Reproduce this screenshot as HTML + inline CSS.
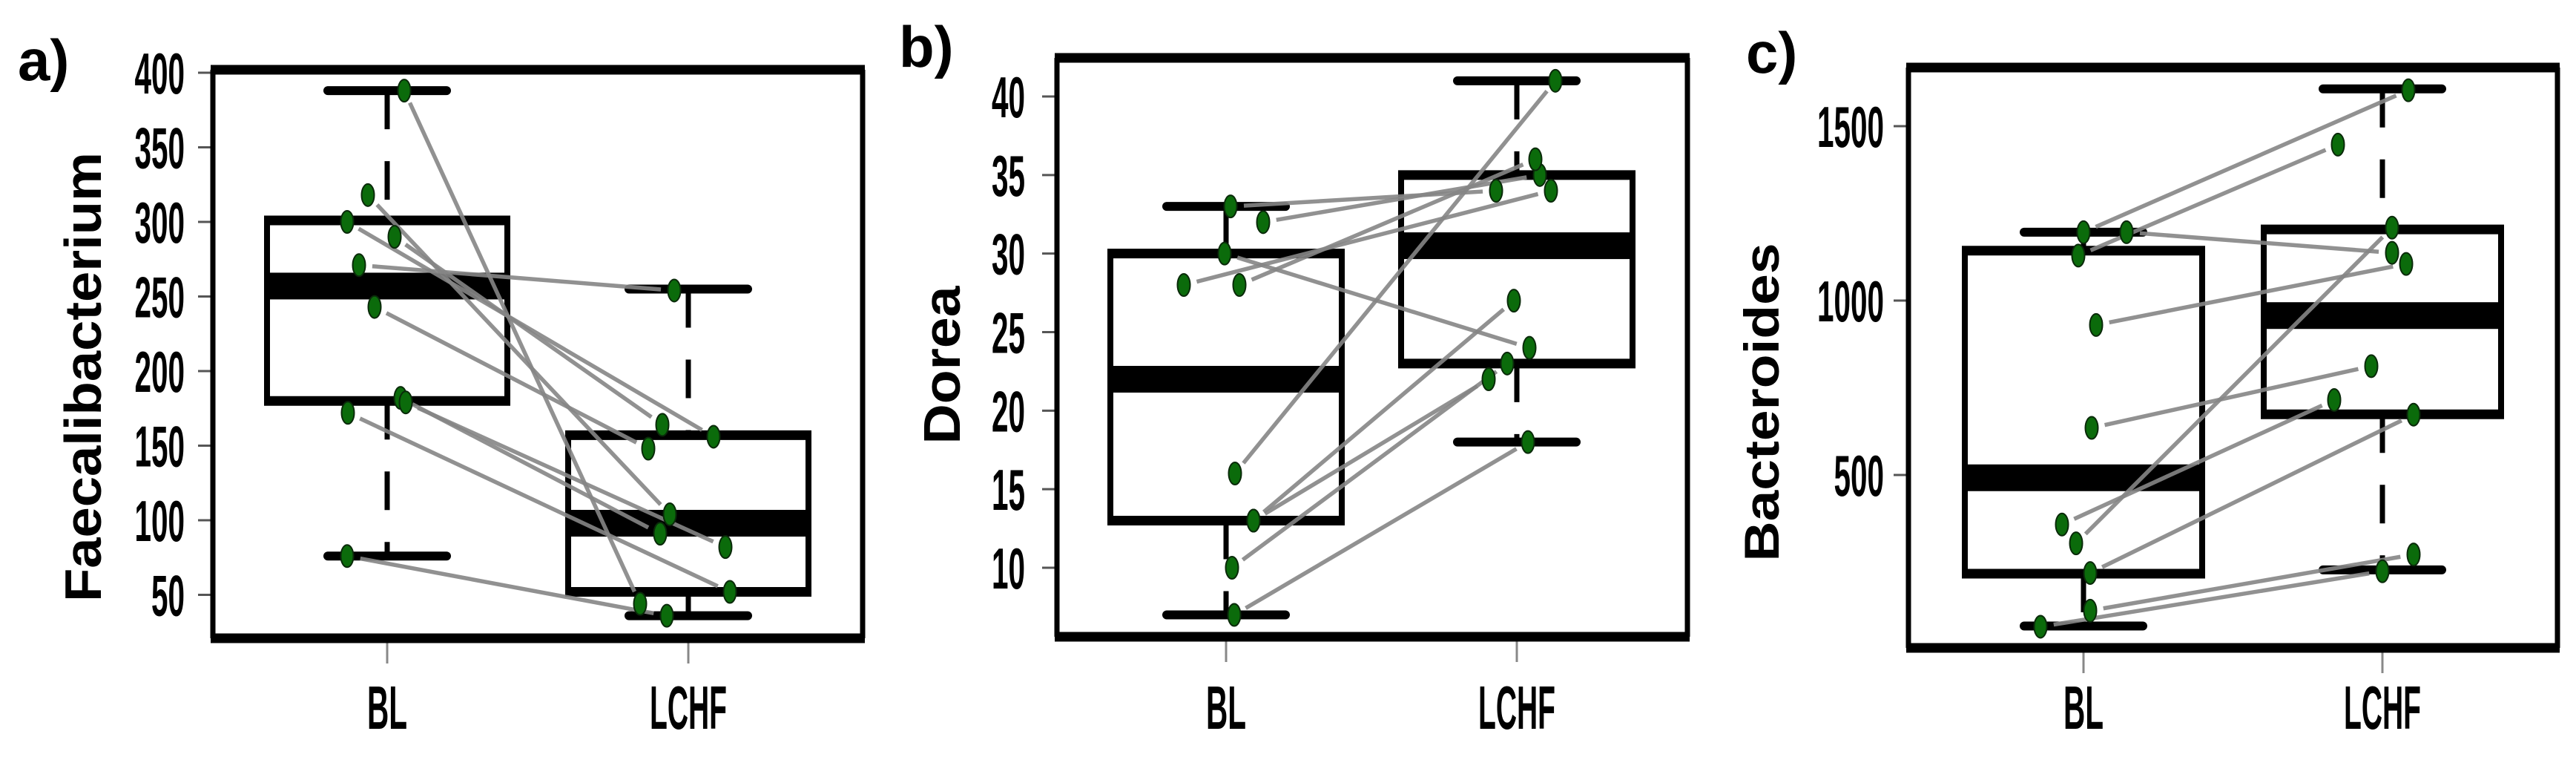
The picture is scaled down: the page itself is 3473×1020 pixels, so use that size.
<!DOCTYPE html>
<html><head><meta charset="utf-8"><style>
html,body{margin:0;padding:0;background:#fff;}
svg{display:block;}
text{font-family:"Liberation Sans",sans-serif;font-weight:bold;fill:#000;}
</style></head><body>
<svg id="fig" width="3473" height="1020" viewBox="0 0 3473 1020" xmlns="http://www.w3.org/2000/svg"></svg>
<script>
// ---- data ----
const categories = ["BL", "LCHF"];
// panel a: Faecalibacterium
const aTicks = [50, 100, 150, 200, 250, 300, 350, 400];
const aBLStats = [76, 180, 257, 301, 388];      // min,q1,median,q3,max
const aLCHFStats = [36, 52, 98, 157, 255];
const aBL = [388, 318, 300, 290, 271, 243, 182, 179, 172, 76];
const aLCHF = [44, 104, 156, 164, 254, 148, 91, 82, 52, 36];
// panel b: Dorea
const bTicks = [10, 15, 20, 25, 30, 35, 40];
const bBLStats = [7, 13, 22, 30, 33];
const bLCHFStats = [18, 23, 30.5, 35, 41];
const bBL = [33, 32, 30, 28, 28, 16, 13, 13, 10, 7];
const bLCHF = [34, 35, 24, 34, 36, 41, 27, 22, 23, 18];
// panel c: Bacteroides
const cTicks = [500, 1000, 1500];
const cBLStats = [67, 217, 492, 1143, 1196];
const cLCHFStats = [228, 674, 957, 1204, 1607];
const cBL = [1196, 1196, 1129, 930, 635, 358, 304, 219, 111, 65];
const cLCHF = [1603, 1137, 1447, 1105, 812, 715, 1209, 673, 272, 224];

// ---- layout (not data) ----
const aJitBL = [23,-26,-54,10,-38,-17,18,25,-53,-54];
const aJitL = [-65,-25,34,-35,-19,-54,-38,50,56,-29];
const bJitBL = [6,50,-2,-57,18,12,37,37,8,11];
const bJitL = [-28,31,17,46,25,52,-4,-38,-13,15];
const cJitBL = [0,58,-7,17,11,-29,-10,9,9,-58];
const cJitL = [35,13,-60,32,-15,-65,13,42,42,0];

const NS = "http://www.w3.org/2000/svg";
const svg = document.getElementById("fig");
function mk(tag, attrs, parent) {
  const e = document.createElementNS(NS, tag);
  for (const k in attrs) e.setAttribute(k, attrs[k]);
  (parent || svg).appendChild(e);
  return e;
}

function panel(p) {
  const g = mk("g", {});
  
  
  const y = v => p.yA + (v - p.vA) * (p.yB - p.yA) / (p.vB - p.vA);
  const xs = [p.xBL, p.xL];

  const lt = mk("text", {x: p.letterX, y: p.letterY, "font-size": 78}, g);
  lt.textContent = p.letter;
  
  

  const yt = mk("text", {x: 0, y: 0, "font-size": p.titleSize, "text-anchor": "middle",
    textLength: p.titleLen, lengthAdjust: "spacingAndGlyphs",
    transform: `translate(${p.titleX},${p.titleY}) rotate(-90)`}, g);
  yt.textContent = p.title;
  
  

  p.ticks.forEach(t => {
    const ty = y(t);
    const tm = mk("line", {x1: p.fx0 - 20, x2: p.fx0, y1: ty, y2: ty, stroke: "#555", "stroke-width": 3}, g);
    
    
    const s = String(t);
    const tl = mk("text", {x: p.labelRight, y: ty + 28, "font-size": 78, "text-anchor": "end",
      textLength: s.length * 22.5, lengthAdjust: "spacingAndGlyphs"}, g);
    tl.textContent = s;
    
    
  });

  categories.forEach((c, i) => {
    const xm = mk("line", {x1: xs[i], x2: xs[i], y1: p.fy1 + 6, y2: p.fy1 + 34, stroke: "#888", "stroke-width": 3}, g);
    
    
    const xl = mk("text", {x: xs[i], y: 982, "font-size": 83, "text-anchor": "middle",
      textLength: c.length === 2 ? 54 : 104, lengthAdjust: "spacingAndGlyphs"}, g);
    xl.textContent = c;
    
    
  });

  [p.blStats, p.lStats].forEach((st, i) => {
    const cx = xs[i], hw = p.boxHalf, ch = 80;
    const bg = mk("g", {}, g);
    
    
    mk("line", {x1: cx, x2: cx, y1: y(st[4]), y2: y(st[3]), stroke: "#000", "stroke-width": 7, "stroke-dasharray": "52,43"}, bg);
    mk("line", {x1: cx, x2: cx, y1: y(st[1]), y2: y(st[0]), stroke: "#000", "stroke-width": 7, "stroke-dasharray": "52,43"}, bg);
    mk("line", {x1: cx - ch, x2: cx + ch, y1: y(st[4]), y2: y(st[4]), stroke: "#000", "stroke-width": 12, "stroke-linecap": "round"}, bg);
    mk("line", {x1: cx - ch, x2: cx + ch, y1: y(st[0]), y2: y(st[0]), stroke: "#000", "stroke-width": 12, "stroke-linecap": "round"}, bg);
    mk("line", {x1: cx - hw, x2: cx - hw, y1: y(st[3]), y2: y(st[1]), stroke: "#000", "stroke-width": 8}, bg);
    mk("line", {x1: cx + hw, x2: cx + hw, y1: y(st[3]), y2: y(st[1]), stroke: "#000", "stroke-width": 8}, bg);
    mk("line", {x1: cx - hw - 4, x2: cx + hw + 4, y1: y(st[3]), y2: y(st[3]), stroke: "#000", "stroke-width": 13}, bg);
    mk("line", {x1: cx - hw - 4, x2: cx + hw + 4, y1: y(st[1]), y2: y(st[1]), stroke: "#000", "stroke-width": 13}, bg);
    mk("rect", {x: cx - hw, y: y(st[2]) - 18, width: 2 * hw, height: 36, fill: "#000"}, bg);
  });

  p.bl.forEach((v, i) => {
    const x1 = p.xBL + p.jBL[i], y1 = y(v), x2 = p.xL + p.jL[i], y2 = y(p.l[i]);
    const dx = x2 - x1, dy = y2 - y1, len = Math.hypot(dx, dy), t = 18 / len;
    const ln = mk("line", {x1: x1 + dx * t, y1: y1 + dy * t, x2: x2 - dx * t, y2: y2 - dy * t,
      stroke: "#858585", "stroke-width": 5.5, "stroke-opacity": 0.9}, g);
    
    
  });
  [[p.bl, p.jBL, p.xBL], [p.l, p.jL, p.xL]].forEach(([vals, jit, cx], k) => {
    vals.forEach((v, i) => {
      const d = mk("ellipse", {cx: cx + jit[i], cy: y(v), rx: 8.5, ry: 15, fill: "#0b6b0b", stroke: "#0a2a0a", "stroke-width": 2}, g);
      
      
    });
  });

  const fr = mk("g", {}, g);
  
  
  mk("line", {x1: p.fx0 - 3, x2: p.fx1 + 3, y1: p.fy0, y2: p.fy0, stroke: "#000", "stroke-width": 13}, fr);
  mk("line", {x1: p.fx0 - 3, x2: p.fx1 + 3, y1: p.fy1, y2: p.fy1, stroke: "#000", "stroke-width": 13}, fr);
  mk("line", {x1: p.fx0, x2: p.fx0, y1: p.fy0, y2: p.fy1, stroke: "#000", "stroke-width": 7}, fr);
  mk("line", {x1: p.fx1, x2: p.fx1, y1: p.fy0, y2: p.fy1, stroke: "#000", "stroke-width": 7}, fr);
}

panel({name: "panel-a-faecalibacterium", letter: "a)", letterX: 24, letterY: 108,
  title: "Faecalibacterium", titleSize: 70, titleLen: 606, titleX: 136, titleY: 508,
  fx0: 287, fx1: 1163, fy0: 94, fy1: 860, yA: 98, vA: 400, yB: 801.5, vB: 50,
  labelRight: 249, xBL: 522, xL: 928, boxHalf: 162,
  ticks: aTicks, blStats: aBLStats, lStats: aLCHFStats, bl: aBL, l: aLCHF, jBL: aJitBL, jL: aJitL});
panel({name: "panel-b-dorea", letter: "b)", letterX: 1212, letterY: 90,
  title: "Dorea", titleSize: 70, titleLen: 213, titleX: 1294, titleY: 492,
  fx0: 1425, fx1: 2275, fy0: 78, fy1: 858, yA: 130, vA: 40, yB: 765, vB: 10,
  labelRight: 1382, xBL: 1653, xL: 2045, boxHalf: 156,
  ticks: bTicks, blStats: bBLStats, lStats: bLCHFStats, bl: bBL, l: bLCHF, jBL: bJitBL, jL: bJitL});
panel({name: "panel-c-bacteroides", letter: "c)", letterX: 2354, letterY: 98,
  title: "Bacteroides", titleSize: 66, titleLen: 429, titleX: 2398, titleY: 542,
  fx0: 2573, fx1: 3448, fy0: 91, fy1: 873, yA: 170, vA: 1500, yB: 640, vB: 500,
  labelRight: 2540, xBL: 2809, xL: 3212, boxHalf: 160,
  ticks: cTicks, blStats: cBLStats, lStats: cLCHFStats, bl: cBL, l: cLCHF, jBL: cJitBL, jL: cJitL});
</script>
</body></html>
